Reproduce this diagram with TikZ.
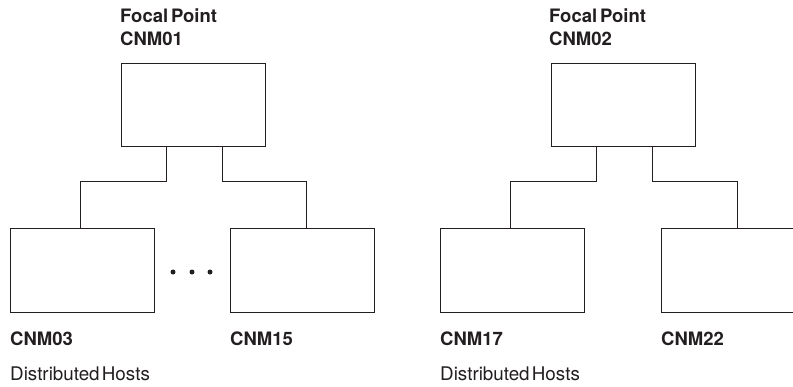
\documentclass[tikz,border=0pt]{standalone}
\usepackage{fontspec}
\setmainfont{TeX Gyre Heros}
\usetikzlibrary{calc}
\definecolor{ink}{HTML}{231F20}
\newcommand\labelfont{\fontsize{18.5}{22}\selectfont\bfseries\spaceskip=0.15em\relax}
\newcommand\notefont{\fontsize{18.8}{22}\selectfont\spaceskip=0.12em\relax}
\begin{document}
\begin{tikzpicture}[x=1pt,y=-1pt,
  host/.style={draw=ink, line width=0.9pt, rectangle, minimum width=144pt, minimum height=83.5pt, inner sep=0pt, anchor=north west},
  wire/.style={draw=ink, line width=0.9pt},
  lbl/.style={anchor=base west, inner sep=0pt, text=ink, font=\labelfont},
  note/.style={anchor=base west, inner sep=0pt, text=ink, font=\notefont},
  dot/.style={circle, fill=ink, inner sep=0pt, minimum size=5pt}]
\clip (0,0) rectangle (793,386);

% first domain: focal point and its distributed hosts
\node[host] (fp1) at (121,62.5) {};
\node[host] (h03) at (10,228) {};
\node[host] (h15) at (230,228) {};
\node[lbl] (fp1a) at (120,22) {Focal Point};
\node[lbl] (fp1b) at (120,45) {CNM01};
\node[lbl] (l03) at (10,345) {CNM03};
\node[lbl] (l15) at (230,345) {CNM15};
\node[note] (dh1) at (10,380) {Distributed Hosts};
\node[dot] (d1) at (173,272) {};
\node[dot] (d2) at (192,272) {};
\node[dot] (d3) at (210,272) {};

% second domain
\node[host] (fp2) at (551,62.5) {};
\node[host] (h17) at (440,228) {};
\node[host] (h22) at (661,228) {};
\node[lbl] (fp2a) at (549,22) {Focal Point};
\node[lbl] (fp2b) at (549,45) {CNM02};
\node[lbl] (l17) at (440,345) {CNM17};
\node[lbl] (l22) at (661,345) {CNM22};
\node[note] (dh2) at (440,380) {Distributed Hosts};

% tree connectors
\foreach \top/\left/\right in {fp1/h03/h15, fp2/h17/h22}{
  \coordinate (a) at ($(\top.south west)!0.3125!(\top.south east)$);
  \coordinate (b) at ($(\top.south west)!0.70!(\top.south east)$);
  \coordinate (ca) at ($(\left.north west)!0.486!(\left.north east)$);
  \coordinate (cb) at ($(\right.north west)!0.528!(\right.north east)$);
  \draw[wire] (a) -- (a |- 0,181) -| (ca);
  \draw[wire] (b) -- (b |- 0,181.5) -| (cb);
}
\end{tikzpicture}
\end{document}
